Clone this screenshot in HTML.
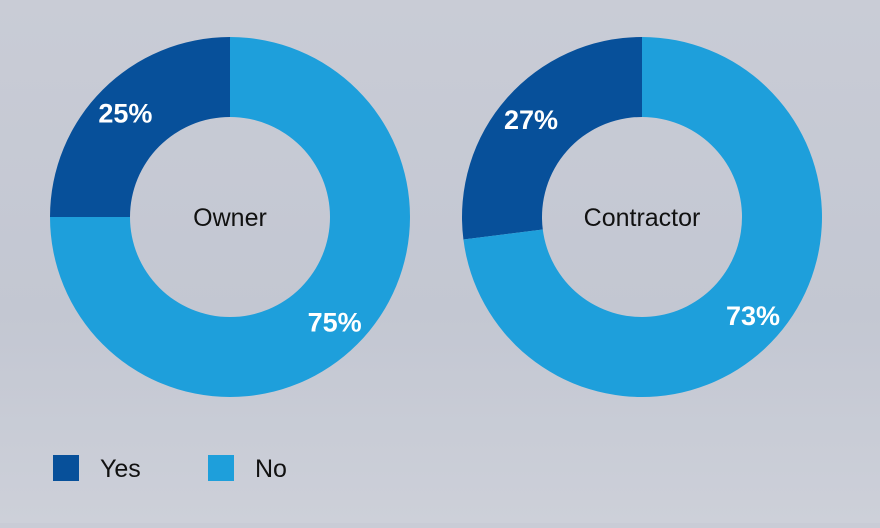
<!DOCTYPE html>
<html><head><meta charset="utf-8"><style>
html,body{margin:0;padding:0}
body{width:880px;height:523px;overflow:hidden;background:linear-gradient(180deg,#c9ccd6 0%,#c3c7d2 60%,#cdd0d9 100%);font-family:"Liberation Sans",sans-serif}
</style></head><body>
<svg id="chart" width="880" height="523" viewBox="0 0 880 523"></svg>
<script>
const categories=["Yes","No"];
const chartTitles=["Owner","Contractor"];
const ownerValues=[25,75];
const contractorValues=[27,73];
const colors=["#07509a","#1e9fdb"];
const svg=document.getElementById('chart');
const NS='http://www.w3.org/2000/svg';
function mk(t,a){const e=document.createElementNS(NS,t);for(const k in a)e.setAttribute(k,a[k]);return e;}
function pt(cx,cy,r,f){const a=f*2*Math.PI;return [cx+r*Math.sin(a),cy-r*Math.cos(a)];}
function donut(cx,cy,vals,title,idx){
  const R=180,r=100,tot=vals.reduce((a,b)=>a+b,0);
  let acc=0;
  vals.forEach((v,i)=>{
    const f0=acc/tot,f1=(acc+v)/tot;acc+=v;
    // Yes slice drawn counterclockwise from top
    const s=i===0?-f1+1:f0-vals[0]/tot, e=i===0?1:f1-vals[0]/tot;
    const a0=s,a1=e;
    const [x0,y0]=pt(cx,cy,R,a0),[x1,y1]=pt(cx,cy,R,a1),[x2,y2]=pt(cx,cy,r,a1),[x3,y3]=pt(cx,cy,r,a0);
    const large=(a1-a0)>0.5?1:0;
    const p=mk('path',{d:`M${x0},${y0}A${R},${R} 0 ${large} 1 ${x1},${y1}L${x2},${y2}A${r},${r} 0 ${large} 0 ${x3},${y3}Z`,fill:colors[i]});
    
    
    svg.appendChild(p);
    const mid=(a0+a1)/2;
    const [lx,ly]=pt(cx,cy,(R+r)/2+8,mid);
    const t=mk('text',{x:lx,y:ly+10,'text-anchor':'middle','font-size':27,'font-weight':'bold',fill:'#fff'});
    t.textContent=v+'%';
    
    
    svg.appendChild(t);
  });
  const c=mk('text',{x:cx,y:cy+9,'text-anchor':'middle','font-size':25,fill:'#111'});
  c.textContent=title;
  
  
  svg.appendChild(c);
}
donut(230,217,ownerValues,chartTitles[0]);
donut(642,217,contractorValues,chartTitles[1]);
const lx=[53,208];
categories.forEach((c,i)=>{
  const g=mk('g',{});
  
  
  g.appendChild(mk('rect',{x:lx[i],y:455,width:26,height:26,fill:colors[i]}));
  const t=mk('text',{x:lx[i]+47,y:477,'font-size':25,fill:'#111'});
  t.textContent=c;g.appendChild(t);svg.appendChild(g);
});
</script>
</body></html>
